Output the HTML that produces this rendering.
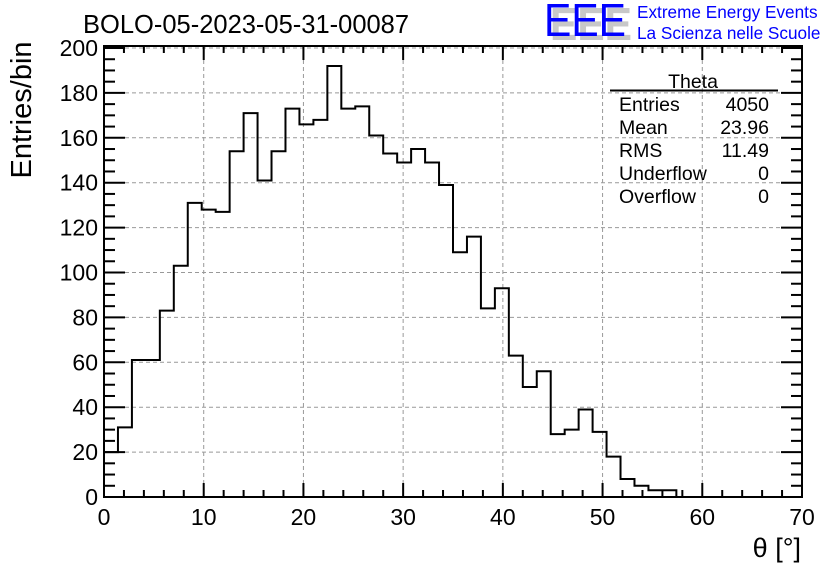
<!DOCTYPE html>
<html><head><meta charset="utf-8"><style>
body{margin:0;background:#fff;}
svg{display:block;font-family:"Liberation Sans",sans-serif;}
</style></head><body>
<svg id="c" width="836" height="572">
<rect width="836" height="572" fill="#fff"/>
<g id="grid"></g>
<g id="hist"></g>
<g id="axes"></g>
<text x="83" y="33" font-size="25.5">BOLO-05-2023-05-31-00087</text>
<text transform="translate(31,110) rotate(-90)" text-anchor="middle" font-size="29">Entries/bin</text>
<text x="801" y="557" text-anchor="end" font-size="27">θ [°]</text>
<g>
<text x="550" y="40" font-size="46" fill="#c8c8c8" font-weight="bold" textLength="82" lengthAdjust="spacingAndGlyphs">EEE</text>
<text x="544" y="36" font-size="46" fill="#0000ff" textLength="82" lengthAdjust="spacingAndGlyphs">EEE</text>
<text x="637" y="18" font-size="17.2" fill="#0000ff">Extreme Energy Events</text>
<text x="637" y="39" font-size="17.2" fill="#0000ff">La Scienza nelle Scuole</text>
</g>
<g font-size="19.5">
<text x="693" y="88" text-anchor="middle">Theta</text>
<line x1="610" y1="90.5" x2="778" y2="90.5" stroke="#000" stroke-width="2"/>
<text x="619" y="111">Entries</text><text x="769" y="111" text-anchor="end">4050</text>
<text x="619" y="134">Mean</text><text x="769" y="134" text-anchor="end">23.96</text>
<text x="619" y="157">RMS</text><text x="769" y="157" text-anchor="end">11.49</text>
<text x="619" y="180">Underflow</text><text x="769" y="180" text-anchor="end">0</text>
<text x="619" y="203">Overflow</text><text x="769" y="203" text-anchor="end">0</text>
</g>
</svg>
<script>
const binWidth = 1.4;
const counts = [20,31,61,61,83,103,131,128,127,154,171,141,154,173,166,168,192,173,174,161,153,149,155,149,139,109,116,84,93,63,49,56,28,30,39,29,18,8,5,3,3,0,0,0,0,0,0,0,0,0];
const xTicks = [0,10,20,30,40,50,60,70];
const yTicks = [0,20,40,60,80,100,120,140,160,180,200];
const X0=104,X1=802,Y0=497,YT=48,FT=46;
const xs = v => X0 + (v/70)*(X1-X0);
const ys = v => Y0 - (v/200)*(Y0-YT);
const NS="http://www.w3.org/2000/svg";
function mk(tag, attrs, parent){const e=document.createElementNS(NS,tag);for(const k in attrs)e.setAttribute(k,attrs[k]);parent.appendChild(e);return e;}
const grid=document.getElementById('grid'), axes=document.getElementById('axes'), hist=document.getElementById('hist');
xTicks.forEach(t=>{ if(t>0&&t<70){const l=mk('line',{x1:xs(t),x2:xs(t),y1:FT,y2:Y0,stroke:'#999','stroke-dasharray':'4,3','stroke-width':1},grid);

}});
yTicks.forEach(t=>{ if(t>0){const l=mk('line',{x1:X0,x2:X1,y1:ys(t),y2:ys(t),stroke:'#999','stroke-dasharray':'4,3','stroke-width':1},grid);

}});
let d='M'+X0+','+ys(0);
counts.forEach((c,i)=>{const xa=xs(i*binWidth), xb=xs((i+1)*binWidth); d+=' L'+xa+','+ys(c)+' L'+xb+','+ys(c);});
d+=' L'+xs(counts.length*binWidth)+','+ys(0);
const p=mk('path',{d:d,fill:'none',stroke:'#000','stroke-width':2},hist);


const fr=mk('rect',{x:X0,y:FT,width:X1-X0,height:Y0-FT,fill:'none',stroke:'#000','stroke-width':2},axes);


for(let v=0;v<=70;v+=2){const maj=v%10===0;const L=maj?14:7;
mk('line',{x1:xs(v),x2:xs(v),y1:Y0,y2:Y0-L,stroke:'#000','stroke-width':2},axes);
mk('line',{x1:xs(v),x2:xs(v),y1:FT,y2:FT+L,stroke:'#000','stroke-width':2},axes);}
xTicks.forEach(t=>{const tx=mk('text',{x:xs(t),y:Y0+28,'text-anchor':'middle','font-size':23},axes);tx.textContent=t;

});
for(let v=0;v<=200;v+=5){const maj=v%20===0;const L=maj?21:11;
mk('line',{x1:X0,x2:X0+L,y1:ys(v),y2:ys(v),stroke:'#000','stroke-width':2},axes);
mk('line',{x1:X1,x2:X1-L,y1:ys(v),y2:ys(v),stroke:'#000','stroke-width':2},axes);}
yTicks.forEach(t=>{const tx=mk('text',{x:X0-6,y:ys(t)+8,'text-anchor':'end','font-size':23},axes);tx.textContent=t;

});
</script>
</body></html>
